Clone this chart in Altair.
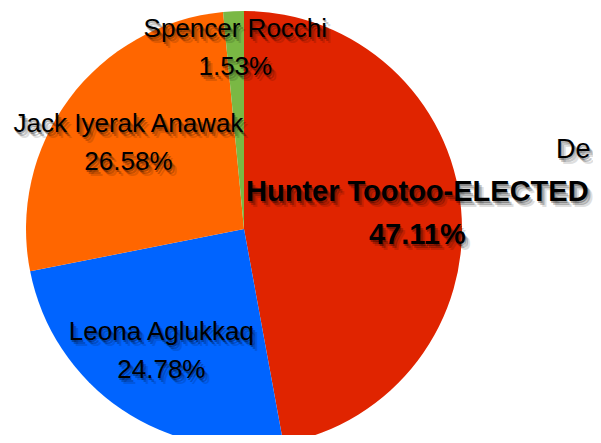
import altair as alt
import pandas as pd

candidates = ["Hunter Tootoo-ELECTED", "Leona Aglukkaq", "Jack Iyerak Anawak", "Spencer Rocchi"]
shares = [47.11, 24.78, 26.58, 1.53]
pct_labels = ["47.11%", "24.78%", "26.58%", "1.53%"]
colors = ["#E02400", "#0064FF", "#FF6600", "#7AB844"]
order_idx = [0, 1, 2, 3]
cut_label = "De"

df = pd.DataFrame({"candidate": candidates, "share": shares, "pct": pct_labels, "idx": order_idx})

FONT = "Liberation Sans"

pie = alt.Chart(df).mark_arc(radius=218).encode(
    theta=alt.Theta("share:Q", stack=True),
    order=alt.Order("idx:Q"),
    color=alt.Color("candidate:N", scale=alt.Scale(domain=candidates, range=colors), legend=None),
)

lab_base = alt.Chart(df).transform_window(
    cum="sum(share)", sort=[alt.SortField("idx")], frame=[None, 0]
).transform_joinaggregate(
    total="sum(share)"
).transform_calculate(
    mid="(datum.cum - datum.share / 2) / datum.total",
    label="[datum.candidate, datum.pct]",
    lr="datum.idx == 0 ? 174 : datum.idx == 1 ? 147 : datum.idx == 2 ? 144 : 181",
)

def text_layer(bold, dx=0, dy=0, color="black", opacity=1.0):
    cond = "datum.idx == 0" if bold else "datum.idx != 0"
    lh = 43 if bold else 38
    return lab_base.transform_filter(cond).mark_text(
        font=FONT,
        fontSize=29 if bold else 26,
        fontWeight="bold" if bold else "normal",
        lineHeight=lh,
        align="center",
        baseline="middle",
        dx=dx, dy=dy - lh / 2,
        color=color,
        opacity=opacity,
    ).encode(
        theta=alt.Theta("mid:Q", scale=alt.Scale(domain=[0, 1]), stack=False),
        radius=alt.Radius("lr:Q", scale=None),
        text="label:N",
    )

shadow_steps = [(5, 6, 0.12), (3, 4, 0.22), (1, 2, 0.3)]
layers = [pie]
for b in (False, True):
    for sx, sy, op in shadow_steps:
        layers.append(text_layer(b, dx=sx, dy=sy, opacity=op))
for b in (False, True):
    layers.append(text_layer(b))

ann_df = pd.DataFrame({"t": [cut_label]})
ann_layers = []
for sx, sy, op in shadow_steps:
    ann_layers.append(alt.Chart(ann_df).mark_text(
        font=FONT, fontSize=27, align="left", baseline="alphabetic", color="black",
        opacity=op, dx=sx, dy=sy
    ).encode(x=alt.value(548), y=alt.value(150), text="t:N"))
ann_layers.append(alt.Chart(ann_df).mark_text(
    font=FONT, fontSize=27, align="left", baseline="alphabetic", color="black"
).encode(x=alt.value(548), y=alt.value(150), text="t:N"))
layers += ann_layers

chart = alt.layer(*layers).resolve_scale(theta="independent").properties(
    width=472,
    height=442,
    autosize="none",
    padding={"left": 0, "top": 0, "right": 113, "bottom": -15},
).configure_view(stroke=None)

chart.save("out.html", embed_options={"renderer": "svg", "actions": False})
